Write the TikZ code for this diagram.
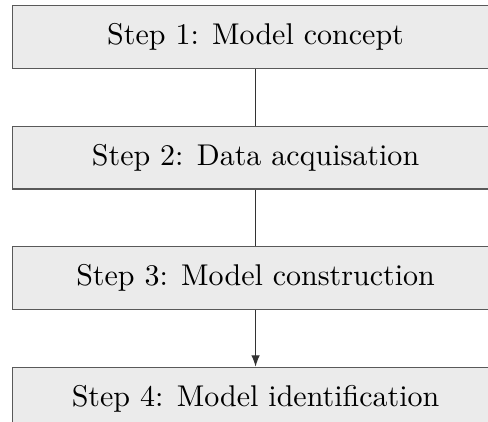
\documentclass[tikz,border=0pt]{standalone}
\usepackage{xcolor}
\usepackage{tikz}
\usetikzlibrary{positioning,arrows.meta,calc}

\begin{document}
\begin{tikzpicture}[
    stepbox/.style={rectangle, minimum width=170.1pt, minimum height=22pt, draw=black!65, fill=black!8, inner sep=0pt, font=\fontsize{10.5}{12.6}\selectfont},
    node distance=19.8pt
]
    \node[stepbox] (concept) {Step 1: Model concept};
    \node[stepbox, below=of concept] (data) {Step 2: Data acquisation};
    \node[stepbox, below=of data] (construct) {Step 3: Model construction};
    \node[stepbox, below=of construct] (ident) {Step 4: Model identification};

    \foreach \from/\to/\tip in {concept/data/-, data/construct/-, construct/ident/-{Latex[length=4pt,width=3pt]}}
        \draw[black!80, \tip] (\from) -- (\to);

    \pgfresetboundingbox
    \useasboundingbox ($(concept.north west)+(-4.2pt,1.75pt)$) rectangle ++(170.8pt,-147.35pt);
\end{tikzpicture}
\end{document}
